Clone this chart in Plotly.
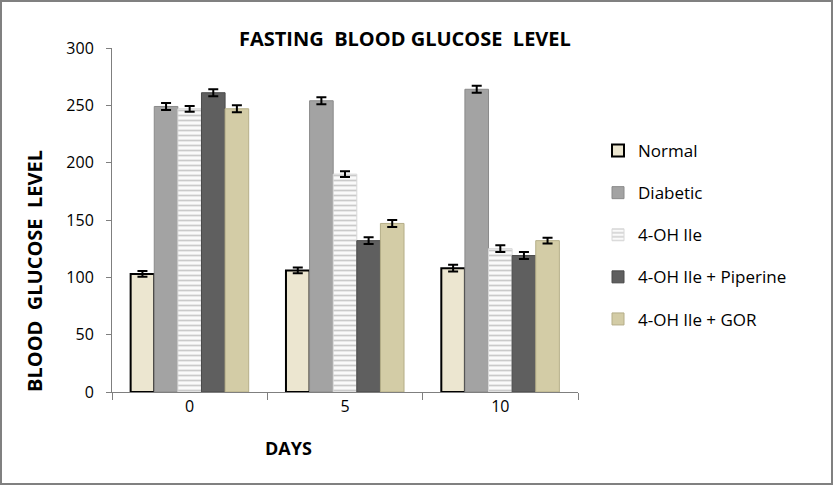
import plotly.graph_objects as go

days = ["0", "5", "10"]
series_names = ["Normal", "Diabetic", "4-OH Ile", "4-OH Ile + Piperine", "4-OH Ile + GOR"]
normal = [103, 106, 108]
diabetic = [249, 254, 264]
oh_ile = [247, 190, 125]
piperine = [261, 132, 119]
gor = [247, 147, 132]
err_normal = [2.5, 2.5, 3]
err_diabetic = [3, 3, 3]
err_oh_ile = [2.5, 2.5, 3]
err_piperine = [3, 3, 3]
err_gor = [3, 3, 2.5]

values = [normal, diabetic, oh_ile, piperine, gor]
errors = [err_normal, err_diabetic, err_oh_ile, err_piperine, err_gor]
fills = ["#ECE6D0", "#A3A3A3", "#FAFAFA", "#5F5F5F", "#D3CCA6"]
lines = ["#000000", "#8A8A8A", "#D8D8D8", "#4A4A4A", "#B5AE88"]
lwidth = [2, 1, 1, 1, 1]

FONT = "Open Sans"
fig = go.Figure()
for i, name in enumerate(series_names):
    marker = dict(color=fills[i], line=dict(color=lines[i], width=lwidth[i]))
    if i == 2:
        marker["pattern"] = dict(shape="-", fgcolor="#9A9A9A", bgcolor="#FAFAFA",
                                 size=5, solidity=0.35)
    fig.add_trace(go.Bar(
        x=days, y=values[i], name=name, marker=marker, legendgroup=name,
        error_y=dict(type="data", array=errors[i], color="black", thickness=2, width=5),
    ))

W, H = 834, 486
L, R, T, B = 112, 578, 48, 392
pw, ph = R - L, B - T

def px(x):
    return (x - L) / pw

def py(y):
    return (B - y) / ph

fig.update_layout(
    width=W, height=H,
    margin=dict(l=L, r=W - R, t=T, b=H - B),
    paper_bgcolor="white", plot_bgcolor="white",
    barmode="group", bargap=0.24, bargroupgap=0,
    font=dict(family=FONT, size=15, color="black"),
    showlegend=True,
    legend=dict(x=px(598), y=py(133), xanchor="left", yanchor="top",
                font=dict(family=FONT, size=17), tracegroupgap=17,
                bgcolor="rgba(0,0,0,0)", itemwidth=30),
    xaxis=dict(type="category", showline=True, linecolor="#7F7F7F", linewidth=1,
               ticks="outside", tickson="boundaries", ticklen=7, tickcolor="#7F7F7F",
               showgrid=False, tickfont=dict(size=16)),
    yaxis=dict(range=[0, 300], dtick=50, showline=True, linecolor="#7F7F7F", linewidth=1,
               ticks="outside", ticklen=5, tickcolor="#7F7F7F", showgrid=False,
               tickfont=dict(size=16), zeroline=False, ticklabelstandoff=9),
    shapes=[dict(type="rect", xref="paper", yref="paper",
                 x0=px(1), x1=px(832), y0=py(484), y1=py(1),
                 line=dict(color="#808080", width=2), fillcolor="rgba(0,0,0,0)", layer="below")],
    annotations=[
        dict(text="<b>FASTING&nbsp;&nbsp;BLOOD GLUCOSE&nbsp;&nbsp;LEVEL</b>", xref="paper", yref="paper",
             x=px(405), y=py(39), xanchor="center", yanchor="middle",
             showarrow=False, font=dict(size=20)),
        dict(text="<b>BLOOD&nbsp;&nbsp;GLUCOSE&nbsp;&nbsp;LEVEL</b>", xref="paper", yref="paper",
             x=px(34), y=py(271), xanchor="center", yanchor="middle", textangle=-90,
             showarrow=False, font=dict(size=20)),
        dict(text="<b>DAYS</b>", xref="paper", yref="paper",
             x=px(288), y=py(448), xanchor="center", yanchor="middle",
             showarrow=False, font=dict(size=18)),
    ],
)

fig.write_html("out.html", post_script="document.body.style.margin='0';",
               config={"displayModeBar": False})
